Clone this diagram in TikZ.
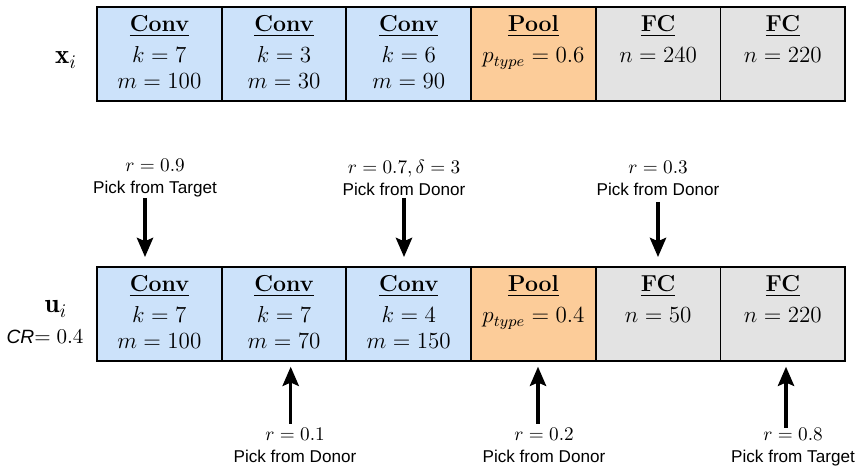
\documentclass[tikz,border=0pt]{standalone}
\usepackage{amsmath}
\usepackage{fontspec}
\usetikzlibrary{arrows.meta}
\newfontfamily\picksf{Liberation Sans}
\definecolor{convblue}{RGB}{204,226,250}
\definecolor{poolorange}{RGB}{252,204,153}
\definecolor{fcgrey}{RGB}{227,227,227}
\newcommand{\layertext}[2]{\parbox[c][48.88pt][t]{64.84pt}{\centering
  \fontsize{12}{13.5}\selectfont
  \rule{0pt}{13pt}\underline{\textbf{#1}}\\[2.6pt]#2}}
\newcommand{\pickfrom}[1]{{\picksf\fontsize{8.9}{10}\selectfont Pick from #1}}

\begin{document}
\begin{tikzpicture}[x=0.52pt, y=-0.52pt,
  layer/.style={draw, line width=1pt, inner sep=0pt, outer sep=0pt},
  conv/.style={layer, fill=convblue},
  pool/.style={layer, fill=poolorange},
  fc/.style={layer, fill=fcgrey},
  pick/.style={line width=1.6pt, -{Stealth[length=10pt, width=8.5pt, inset=1.8pt]}},
  picklabel/.style={align=center, font=\fontsize{10.2}{11.4}\selectfont, inner sep=0pt},
  rowlabel/.style={inner sep=0pt, font=\fontsize{14}{16}\selectfont}
]
\useasboundingbox (0,0) rectangle (857,467);

% target individual
\node[rowlabel] (xlab) at (66,60) {$\mathbf{x}_i$};
\node[conv] (x1) at (159.35,54) {\layertext{Conv}{$k=7$\\ $m=100$}};
\node[conv] (x2) at (284.05,54) {\layertext{Conv}{$k=3$\\ $m=30$}};
\node[conv] (x3) at (408.75,54) {\layertext{Conv}{$k=6$\\ $m=90$}};
\node[pool] (x4) at (533.45,54) {\layertext{Pool}{$p_{type}=0.6$}};
\node[fc]   (x5) at (658.15,54) {\layertext{FC}{$n=240$}};
\node[fc]   (x6) at (782.85,54) {\layertext{FC}{$n=220$}};

% trial individual
\node[rowlabel] (ulab) at (56,309) {$\mathbf{u}_i$};
\node[inner sep=0pt, font=\fontsize{11}{13}\selectfont] (crlab) at (45,337)
  {{\picksf\itshape\fontsize{10}{12}\selectfont CR}$=0.4$};
\node[conv] (u1) at (159.35,314) {\layertext{Conv}{$k=7$\\ $m=100$}};
\node[conv] (u2) at (284.05,314) {\layertext{Conv}{$k=7$\\ $m=70$}};
\node[conv] (u3) at (408.75,314) {\layertext{Conv}{$k=4$\\ $m=150$}};
\node[pool] (u4) at (533.45,314) {\layertext{Pool}{$p_{type}=0.4$}};
\node[fc]   (u5) at (658.15,314) {\layertext{FC}{$n=50$}};
\node[fc]   (u6) at (782.85,314) {\layertext{FC}{$n=220$}};

% picks from above
\node[picklabel] (p1) at (155,178) {$r=0.9$\\ \pickfrom{Target}};
\node[picklabel] (p3) at (404,178) {$r=0.7,\delta=3$\\ \pickfrom{Donor}};
\node[picklabel] (p5) at (658,178) {$r=0.3$\\ \pickfrom{Donor}};
\coordinate (d1) at (145,198);
\coordinate (d3) at (404,198);
\coordinate (d5) at (658,202);
\draw[pick, shorten >=5.2pt] (d1) -- (d1 |- u1.north);
\draw[pick, shorten >=5.2pt] (d3) -- (d3 |- u3.north);
\draw[pick, shorten >=5.2pt] (d5) -- (d5 |- u5.north);

% picks from below
\node[picklabel] (p2) at (295,445) {$r=0.1$\\ \pickfrom{Donor}};
\node[picklabel] (p4) at (544,445) {$r=0.2$\\ \pickfrom{Donor}};
\node[picklabel] (p6) at (793,447) {$r=0.8$\\ \pickfrom{Target}};
\coordinate (e2) at (290.7,424);
\coordinate (e4) at (538,424);
\coordinate (e6) at (786,428);
\draw[pick, shorten >=3pt] (e2) -- (e2 |- u2.south);
\draw[pick, shorten >=3pt] (e4) -- (e4 |- u4.south);
\draw[pick, shorten >=3pt] (e6) -- (e6 |- u6.south);
\end{tikzpicture}
\end{document}
